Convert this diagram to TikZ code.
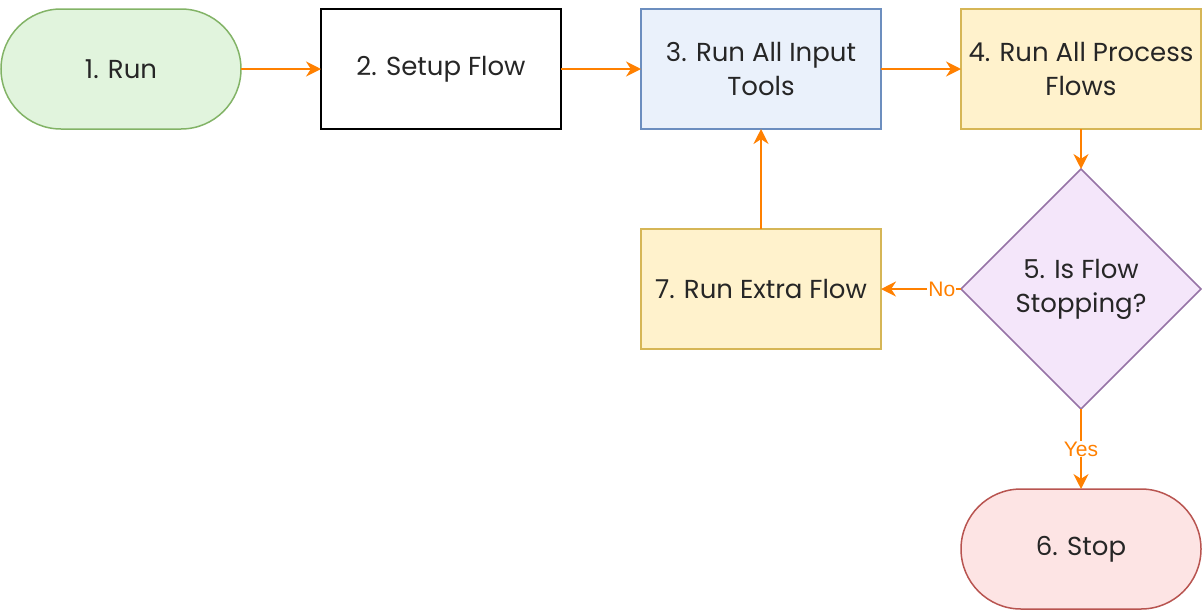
\documentclass[tikz,border=0pt]{standalone}
\usepackage{fontspec}
\setmainfont{Poppins}
\newfontfamily\labelfont{Liberation Sans}
\usepackage{xcolor}
\usetikzlibrary{arrows.meta, positioning, shapes.geometric}
\definecolor{runfill}{HTML}{E1F4DD}
\definecolor{rundraw}{HTML}{82B366}
\definecolor{inputfill}{HTML}{EAF1FB}
\definecolor{inputdraw}{HTML}{6C8EBF}
\definecolor{procfill}{HTML}{FFF2CC}
\definecolor{procdraw}{HTML}{D6B656}
\definecolor{askfill}{HTML}{F4E6FA}
\definecolor{askdraw}{HTML}{9673A6}
\definecolor{stopfill}{HTML}{FDE4E4}
\definecolor{stopdraw}{HTML}{B85450}
\definecolor{flow}{HTML}{FF8000}
\tikzset{
  box/.style     = {draw, line width=1.5pt, minimum width=240pt,
                    minimum height=120pt, align=center, inner sep=0pt,
                    outer sep=0pt, font=\fontsize{26}{34}\selectfont,
                    text=black!85},
  bterm/.style   = {box, rounded corners=60pt},
  bgreen/.style  = {bterm, fill=runfill, draw=rundraw},
  bred/.style    = {bterm, fill=stopfill, draw=stopdraw},
  bplain/.style  = {box, fill=white, draw=black},
  bblue/.style   = {box, fill=inputfill, draw=inputdraw},
  byellow/.style = {box, fill=procfill, draw=procdraw},
  bask/.style    = {box, diamond, aspect=1, minimum width=240pt,
                    minimum height=240pt, fill=askfill, draw=askdraw},
  arr/.style     = {-{Stealth[length=15pt,width=15pt]}, line width=2pt,
                    draw=flow},
  tag/.style     = {fill=white, text=flow, inner sep=1pt,
                    font=\labelfont\fontsize{21}{21}\selectfont}
}
\begin{document}
\begin{tikzpicture}[node distance=80pt and 80pt]
  \useasboundingbox (0pt,0pt) rectangle (1202pt,-614pt);
  \node[bgreen]  (run)     at (121pt,-69pt) {1. Run};
  \node[bplain,  right=of run]     (setup)   {2. Setup Flow};
  \node[bblue,   right=of setup]   (input)   {3. Run All Input\\Tools};
  \node[byellow, right=of input]   (process) {4. Run All Process\\Flows};
  \node[bask,    below=40pt of process] (ask) {5. Is Flow\\Stopping?};
  \node[bred,    below=of ask]     (stop)    {6. Stop};
  \node[byellow, left=of ask]      (extra)   {7. Run Extra Flow};
  \draw[arr] (run) -- (setup);
  \draw[arr] (setup) -- (input);
  \draw[arr] (input) -- (process);
  \draw[arr] (process) -- (ask);
  \draw[arr] (ask) -- node[tag, pos=0.24] {No} (extra);
  \draw[arr] (ask) -- node[tag] {Yes} (stop);
  \draw[arr] (extra) -- (input);
\end{tikzpicture}
\end{document}
